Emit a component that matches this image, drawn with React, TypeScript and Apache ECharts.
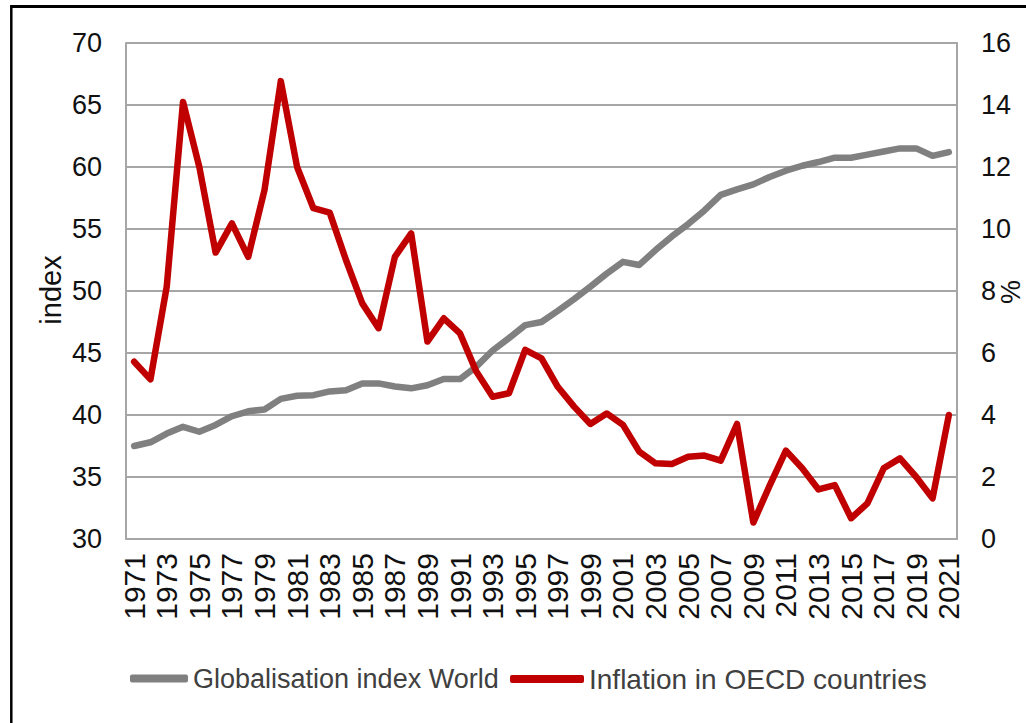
import React, { useEffect, useRef } from "react";
import * as echarts from "echarts";

const years = [
  "1971", "1972", "1973", "1974", "1975", "1976", "1977", "1978", "1979", "1980",
  "1981", "1982", "1983", "1984", "1985", "1986", "1987", "1988", "1989", "1990",
  "1991", "1992", "1993", "1994", "1995", "1996", "1997", "1998", "1999", "2000",
  "2001", "2002", "2003", "2004", "2005", "2006", "2007", "2008", "2009", "2010",
  "2011", "2012", "2013", "2014", "2015", "2016", "2017", "2018", "2019", "2020",
  "2021",
];

const globalisationIndex = [
  37.5, 37.8, 38.5, 39.05, 38.65, 39.2, 39.9, 40.3, 40.45, 41.3,
  41.55, 41.6, 41.9, 42.0, 42.55, 42.55, 42.3, 42.15, 42.4, 42.9,
  42.9, 43.9, 45.2, 46.2, 47.25, 47.5, 48.4, 49.35, 50.35, 51.4,
  52.35, 52.1, 53.3, 54.4, 55.4, 56.5, 57.75, 58.2, 58.6, 59.2,
  59.7, 60.1, 60.4, 60.75, 60.75, 61.0, 61.25, 61.5, 61.5, 60.9, 61.2,
];

const inflationOECD = [
  5.72, 5.15, 8.14, 14.1, 12.0, 9.24, 10.18, 9.1, 11.26, 14.77,
  12.0, 10.67, 10.53, 9.0, 7.6, 6.8, 9.1, 9.86, 6.37, 7.12,
  6.63, 5.4, 4.59, 4.7, 6.1, 5.83, 4.91, 4.27, 3.71, 4.05,
  3.68, 2.82, 2.44, 2.42, 2.65, 2.69, 2.53, 3.71, 0.53, 1.72,
  2.85, 2.28, 1.6, 1.74, 0.67, 1.15, 2.28, 2.6, 2.0, 1.31, 4.0,
];

const seriesNames = ["Globalisation index World", "Inflation in OECD countries"];
const leftAxisName = "index";
const rightAxisName = "%";

const SANS = "'Liberation Sans', Arial, sans-serif";
const GRID = "#a6a6a6";

export default function App() {
  const ref = useRef<HTMLDivElement>(null);

  useEffect(() => {
    if (!ref.current) return;
    const chart = echarts.init(ref.current, undefined, { renderer: "svg" });
    chart.setOption({
      animation: false,
      backgroundColor: "#ffffff",
      grid: { left: 126, right: 69, top: 43, bottom: 184, containLabel: false },
      xAxis: {
        type: "category",
        data: years,
        boundaryGap: true,
        axisLine: { show: true, lineStyle: { color: GRID, width: 2 } },
        axisTick: { show: false },
        axisLabel: {
          interval: 1,
          rotate: 90,
          margin: 14,
          fontSize: 30,
          fontFamily: SANS,
          color: "#111",
        },
      },
      yAxis: [
        {
          type: "value",
          min: 30,
          max: 70,
          interval: 5,
          axisLine: { show: true, lineStyle: { color: GRID, width: 2 } },
          axisTick: { show: false },
          splitLine: { show: true, lineStyle: { color: GRID, width: 2 } },
          axisLabel: { margin: 24, fontSize: 27, fontFamily: SANS, color: "#111" },
        },
        {
          type: "value",
          min: 0,
          max: 16,
          interval: 2,
          position: "right",
          axisLine: { show: true, lineStyle: { color: GRID, width: 2 } },
          axisTick: { show: false },
          splitLine: { show: false },
          axisLabel: { margin: 24, fontSize: 27, fontFamily: SANS, color: "#111" },
        },
      ],
      legend: [
        {
          data: [seriesNames[0]],
          left: 125,
          top: 660,
          icon: "roundRect",
          itemWidth: 58,
          itemHeight: 8,
          itemGap: 0,
          textStyle: { fontSize: 27, fontFamily: SANS, color: "#404040" },
        },
        {
          data: [seriesNames[1]],
          left: 505,
          top: 660,
          icon: "roundRect",
          itemWidth: 74,
          itemHeight: 8,
          itemGap: 0,
          textStyle: { fontSize: 28, fontFamily: SANS, color: "#404040" },
        },
      ],
      series: [
        {
          name: seriesNames[0],
          type: "line",
          data: globalisationIndex,
          yAxisIndex: 0,
          symbol: "none",
          lineStyle: { color: "#808080", width: 6.5, join: "round", cap: "round" },
          itemStyle: { color: "#808080" },
        },
        {
          name: seriesNames[1],
          type: "line",
          data: inflationOECD,
          yAxisIndex: 1,
          symbol: "none",
          lineStyle: { color: "#c00000", width: 6.5, join: "round", cap: "round" },
          itemStyle: { color: "#c00000" },
        },
      ],
      graphic: [
        {
          type: "line",
          shape: { x1: 11, y1: 6.5, x2: 1030, y2: 6.5 },
          style: { stroke: "#000", lineWidth: 3 },
          silent: true,
        },
        {
          type: "line",
          shape: { x1: 11.3, y1: 5, x2: 11.3, y2: 723 },
          style: { stroke: "#000", lineWidth: 2.5 },
          silent: true,
        },
        {
          type: "text",
          x: 51,
          y: 290,
          rotation: Math.PI / 2,
          style: {
            text: leftAxisName,
            fontSize: 29,
            fontFamily: SANS,
            fill: "#111",
            align: "center",
            verticalAlign: "middle",
          },
          silent: true,
        },
        {
          type: "text",
          x: 1011,
          y: 292,
          rotation: Math.PI / 2,
          style: {
            text: rightAxisName,
            fontSize: 27,
            fontFamily: SANS,
            fill: "#111",
            align: "center",
            verticalAlign: "middle",
          },
          silent: true,
        },
      ],
    });
    return () => chart.dispose();
  }, []);

  return (
    <div
      ref={ref}
      style={{ position: "absolute", left: 0, top: 0, width: 1026, height: 723, background: "#fff" }}
    />
  );
}
